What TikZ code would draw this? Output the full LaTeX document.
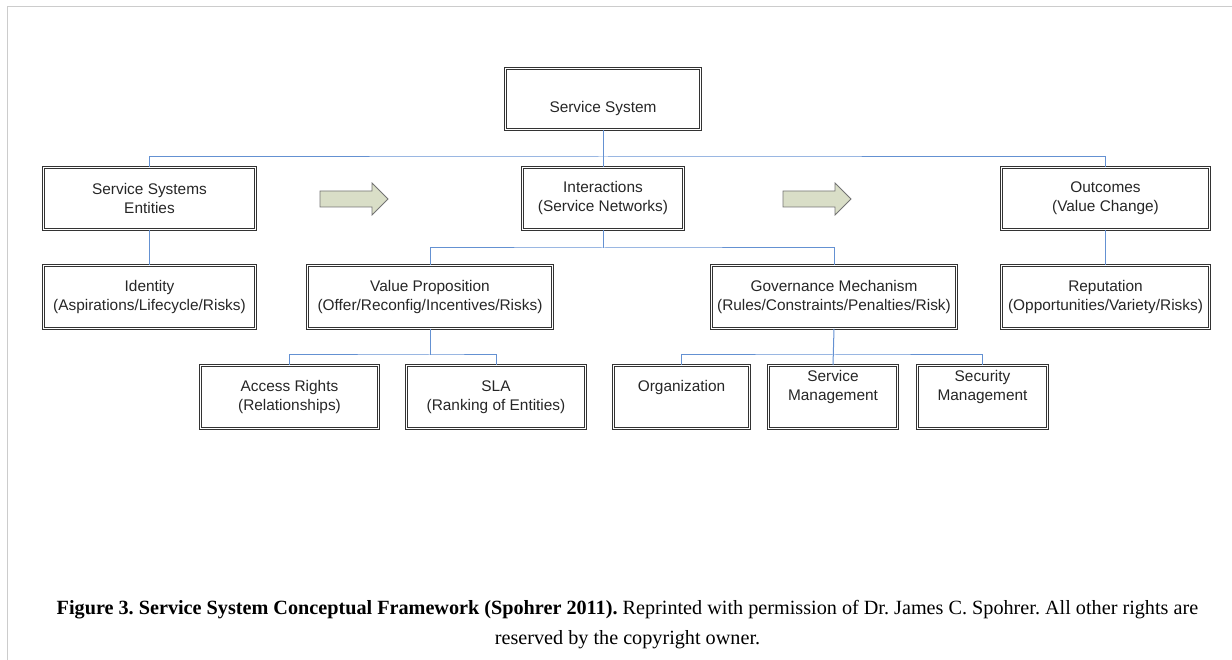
\documentclass[tikz,border=0pt]{standalone}
\usepackage{fontspec}
\setmainfont{Liberation Serif}
\newfontfamily\boxfont{Liberation Sans}
\frenchspacing
\begin{document}
\begin{tikzpicture}[x=1pt,y=-1pt,
  box/.style={draw=black!80, double=white, line width=0.7pt, double distance=1.6pt,
    align=center, font=\boxfont\fontsize{15.4}{19}\selectfont, text=black!85, inner sep=0pt},
  conn/.style={draw={rgb,255:red,100;green,145;blue,210}, line width=1pt},
  barrow/.style={draw=black!55, line width=0.8pt, fill={rgb,255:red,217;green,222;blue,199}},
  frame/.style={draw=black!20, line width=1pt}]
\useasboundingbox (0,0) rectangle (1232,660);
\draw[frame] (7,660) -- (7,7) -- (1232,7);

% level 0
\node[box, minimum width=195pt, minimum height=61pt] (ss) at (603,99) {\strut\\\strut Service System};
% level 1
\node[box, minimum width=212pt, minimum height=62pt] (ent) at (149.5,198.5) {Service Systems\\Entities};
\node[box, minimum width=161pt, minimum height=62pt] (inter) at (603,198.5) {Interactions\\(Service Networks)};
\node[box, minimum width=208pt, minimum height=62pt] (out) at (1105.5,198.5) {Outcomes\\(Value Change)};
% level 2
\node[box, minimum width=212pt, minimum height=63pt] (ident) at (149.5,297) {Identity\\(Aspirations/Lifecycle/Risks)};
\node[box, minimum width=245pt, minimum height=63pt] (vp) at (430,297) {Value Proposition\\(Offer/Reconfig/Incentives/Risks)};
\node[box, minimum width=245pt, minimum height=63pt] (gov) at (834,297) {Governance Mechanism\\(Rules/Constraints/Penalties/Risk)};
\node[box, minimum width=208pt, minimum height=63pt] (rep) at (1105.5,297) {Reputation\\(Opportunities/Variety/Risks)};
% level 3
\node[box, minimum width=178pt, minimum height=63pt] (acc) at (289.5,397) {Access Rights\\(Relationships)};
\node[box, minimum width=179pt, minimum height=63pt] (sla) at (496,397) {SLA\\(Ranking of Entities)};
\node[box, minimum width=136pt, minimum height=63pt] (org) at (681.5,397) {\strut Organization\\\strut};
\node[box, minimum width=129pt, minimum height=63pt] (sm) at (833,397) {\strut Service\\\strut Management\\\strut};
\node[box, minimum width=130pt, minimum height=63pt] (secm) at (982.5,397) {\strut Security\\\strut Management\\\strut};

% connectors
\coordinate (j0) at (603,157);
\coordinate (j1) at (603,248);
\coordinate (j2) at (430,355);
\coordinate (j3) at (834,355);
\draw[conn] (ss.south) -- (inter.north);
\draw[conn] (ent.north) |- (j0) -| (out.north);
\draw[conn] (ent.south) -- (ident.north);
\draw[conn] (out.south) -- (rep.north);
\draw[conn] (inter.south) -- (j1);
\draw[conn] (vp.north) |- (j1) -| (gov.north);
\draw[conn] (vp.south) -- (j2);
\draw[conn] (acc.north) |- (j2) -| (sla.north);
\draw[conn] (gov.south) -- (sm.north);
\draw[conn] (org.north) |- (j3) -| (secm.north);

% block arrows
\draw[barrow] (320,191) -- (372,191) -- (372,183) -- (388,199) -- (372,215) -- (372,207) -- (320,207) -- cycle;
\draw[barrow] (783,191) -- (835,191) -- (835,183) -- (851,199) -- (835,215) -- (835,207) -- (783,207) -- cycle;

% caption
\node[align=center, font=\fontsize{20.2}{30}\selectfont, inner sep=0pt] (cap) at (627.5,624.5)
  {\textbf{Figure 3. Service System Conceptual Framework (Spohrer 2011).} Reprinted with permission of Dr. James C. Spohrer. All other rights are\\reserved by the copyright owner.};
\end{tikzpicture}
\end{document}
